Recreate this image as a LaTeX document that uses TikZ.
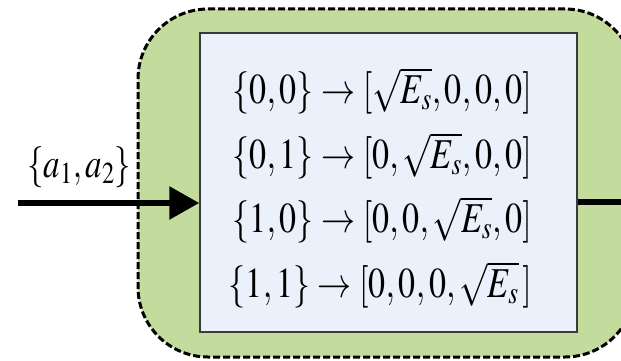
\documentclass[tikz,border=0pt]{standalone}
\usepackage{mathptmx}
\usepackage{graphicx}
\usetikzlibrary{arrows.meta}
\definecolor{boxgreen}{HTML}{C4DB9E}
\definecolor{boxblue}{HTML}{EAF1FB}
\definecolor{boxedge}{HTML}{3A3A3A}
\newcommand{\tallmath}[1]{\scalebox{1}[1.25]{$#1$}}
\tikzset{
  outerbox/.style={draw=black, fill=boxgreen, line width=3pt, dash pattern=on 7pt off 3pt,
    rounded corners=70pt, minimum width=497pt, minimum height=348pt, inner sep=0pt},
  innerbox/.style={draw=boxedge, fill=boxblue, line width=1.5pt,
    minimum width=377pt, minimum height=299pt, inner sep=0pt},
  eqline/.style={anchor=base east, inner sep=0pt, font=\fontsize{34}{40}\selectfont},
  inlabel/.style={anchor=base west, inner sep=0pt, font=\fontsize{33}{40}\selectfont},
  flow/.style={line width=6pt}
}
\begin{document}
\begin{tikzpicture}[x=1pt,y=-1pt]
\useasboundingbox (0,0) rectangle (621,361);
\node[outerbox] (outer) at (386.5,183) {};
\node[innerbox] (inner) at (388.5,182.5) {};
\node[eqline] (l1) at (532,103) {\tallmath{\{0,0\}\rightarrow[\sqrt{E_s},0,0,0]}};
\node[eqline] (l2) at (532,168) {\tallmath{\{0,1\}\rightarrow[0,\sqrt{E_s},0,0]}};
\node[eqline] (l3) at (532,232) {\tallmath{\{1,0\}\rightarrow[0,0,\sqrt{E_s},0]}};
\node[eqline] (l4) at (532,297) {\tallmath{\{1,1\}\rightarrow[0,0,0,\sqrt{E_s}\,]}};
\node[inlabel] (lab) at (27,177) {\tallmath{\{a_1,a_2\}}};
\coordinate (in) at (18,203);
\coordinate (out) at (621,202);
\draw[flow, -{Triangle[length=30pt,width=32pt]}] (in) -- (inner.west |- in);
\draw[flow] (inner.east |- out) -- (out);
\end{tikzpicture}
\end{document}
